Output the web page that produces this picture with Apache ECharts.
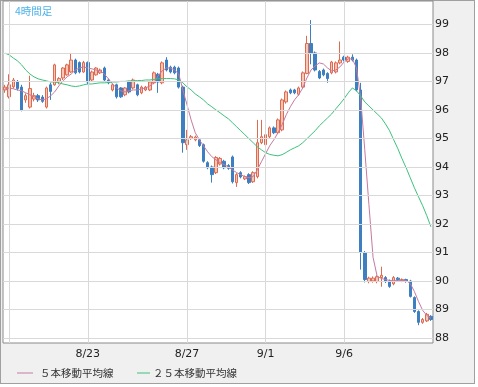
<!DOCTYPE html>
<html>
<head>
<meta charset="utf-8">
<script src="https://cdn.jsdelivr.net/npm/echarts@6/dist/echarts.min.js"></script>
<style>
html,body{margin:0;padding:0;background:#ffffff;}
#frame{position:absolute;left:0;top:0;width:473px;height:382px;background:#f0f0f0;border:1px solid #a0a0a0;}
#chart{position:absolute;left:0;top:0;width:478px;height:387px;}
</style>
</head>
<body>
<div id="frame"></div>
<div id="chart"></div>
<script>
// ---- data ----
const opens  = [96.70,96.46,96.81,97.00,96.80,96.35,96.10,96.38,96.50,96.45,96.10,96.88,96.88,97.00,97.12,97.23,97.33,97.75,97.66,97.33,
                97.66,97.05,97.23,97.30,97.47,97.05,96.70,96.88,96.77,96.53,96.98,96.77,96.88,96.60,96.70,96.70,96.95,97.25,96.95,97.75,
                97.50,97.50,97.47,96.80,94.78,95.00,94.95,94.95,94.78,94.15,94.00,93.80,94.10,94.20,94.05,94.35,93.45,93.80,93.58,93.73,
                93.48,93.66,94.85,94.78,95.06,95.37,95.20,95.30,96.28,96.70,96.70,96.55,96.80,97.28,98.33,98.00,97.35,97.40,97.28,97.30,
                97.33,97.65,97.85,97.70,97.85,97.75,96.70,91.00,89.98,90.00,89.98,90.12,90.12,90.00,89.90,90.10,90.00,90.05,90.00,89.42,
                88.93,88.55,88.60,88.76];
const closes = [96.80,96.88,97.05,96.75,96.00,96.50,96.75,96.50,96.35,96.30,96.77,96.65,97.58,97.10,97.47,97.58,97.75,97.30,97.33,97.66,
                96.98,97.33,97.47,97.40,97.05,96.95,96.88,96.46,96.46,96.77,96.63,97.05,96.53,96.80,96.80,96.98,97.30,96.98,97.65,97.40,
                97.33,97.30,96.80,94.85,94.95,95.06,95.05,94.75,94.20,93.97,93.73,94.33,94.30,93.97,93.95,93.48,93.73,93.65,93.66,93.45,
                93.80,94.85,95.06,95.13,95.37,95.20,95.65,96.35,96.63,96.60,96.60,96.77,97.30,98.33,98.00,97.40,97.12,97.23,97.10,97.68,
                97.65,97.75,97.75,97.85,97.75,96.70,91.00,90.05,90.10,90.10,90.15,90.20,89.98,89.81,90.12,90.05,90.05,89.98,89.46,88.93,
                88.55,88.65,88.83,88.65];
const lows   = [96.60,96.40,96.75,96.68,95.95,96.25,96.05,96.30,96.28,96.25,96.05,96.35,96.85,96.90,97.05,97.20,97.30,97.25,97.28,97.30,
                96.90,97.00,97.20,97.26,97.00,96.90,96.65,96.40,96.42,96.48,96.58,96.72,96.48,96.55,96.66,96.66,96.90,96.60,96.90,97.35,
                97.28,97.25,96.75,94.50,94.60,94.95,94.90,94.70,94.15,93.92,93.45,93.75,94.05,93.92,93.90,93.42,93.30,93.60,93.54,93.40,
                93.44,93.60,94.80,94.72,95.00,95.15,95.15,95.25,96.22,96.55,96.55,96.50,96.75,97.25,97.60,97.35,97.08,97.18,96.95,97.25,
                97.28,97.60,97.70,97.65,97.70,96.65,90.40,89.95,89.92,89.94,89.92,89.80,89.93,89.76,89.85,90.00,89.96,89.94,89.42,88.88,
                88.45,88.50,88.56,88.60];
const highs  = [96.88,97.25,97.12,97.05,96.88,96.58,97.20,96.60,96.56,96.52,96.82,96.95,97.62,97.15,97.50,97.62,98.00,97.80,97.70,97.72,
                97.70,97.38,97.50,97.45,97.52,97.10,96.92,96.92,96.80,96.80,97.02,97.10,96.92,96.85,96.84,97.02,97.35,97.30,97.70,97.85,
                97.55,97.55,97.52,96.85,95.30,95.12,95.10,95.00,94.82,94.20,94.05,94.38,94.35,94.25,94.10,94.40,93.78,93.85,93.70,93.78,
                93.85,95.65,95.65,95.20,95.42,95.42,95.70,96.40,96.68,96.75,96.74,96.82,97.35,98.60,99.15,98.05,97.40,97.45,97.32,97.72,
                97.70,98.40,97.90,97.90,97.95,97.80,96.95,91.05,90.15,90.16,90.20,90.50,90.17,90.05,90.17,90.14,90.09,90.08,90.04,89.46,
                88.97,88.70,88.88,88.80];
const ma5    = [96.74,96.77,96.74,96.70,96.67,96.60,96.53,96.46,96.39,96.35,96.39,96.49,96.63,96.84,97.02,97.16,97.26,97.40,97.47,97.51,
                97.47,97.44,97.40,97.37,97.26,97.09,96.91,96.77,96.67,96.63,96.67,96.70,96.70,96.74,96.77,96.84,96.95,97.19,97.37,97.47,
                97.47,97.40,97.26,96.70,96.18,95.65,95.20,94.95,94.74,94.53,94.36,94.25,94.15,94.08,94.00,93.90,93.80,93.73,93.66,93.62,
                93.66,93.90,94.18,94.46,94.74,94.95,95.20,95.48,95.83,96.11,96.35,96.53,96.77,97.12,97.40,97.54,97.65,97.61,97.47,97.37,
                97.40,97.51,97.68,97.79,97.79,97.47,96.42,94.60,92.68,90.83,90.16,90.09,90.05,90.02,90.02,90.02,90.02,90.02,89.91,89.63,
                89.28,88.97,88.79,88.69];
const ma25   = [97.99,97.93,97.82,97.72,97.58,97.40,97.26,97.16,97.09,97.05,97.02,96.98,96.98,96.95,96.91,96.88,96.84,96.82,96.84,96.88,
                96.91,96.91,96.93,96.95,96.95,96.96,96.98,96.98,97.00,97.00,97.02,97.02,97.03,97.03,97.05,97.05,97.07,97.09,97.10,97.10,
                97.10,97.09,97.05,96.95,96.81,96.70,96.56,96.46,96.35,96.21,96.11,96.00,95.90,95.79,95.69,95.55,95.41,95.27,95.13,94.99,
                94.85,94.71,94.60,94.50,94.44,94.41,94.39,94.43,94.51,94.60,94.67,94.74,94.85,94.99,95.13,95.27,95.44,95.58,95.72,95.86,
                96.04,96.21,96.39,96.60,96.77,96.67,96.49,96.28,96.14,96.00,95.86,95.72,95.51,95.27,94.95,94.64,94.29,93.97,93.62,93.27,
                92.95,92.64,92.29,91.90];
const yTicks      = [88,89,90,91,92,93,94,95,96,97,98,99];
const dayIndex    = [1,20,44,63,82];
const dayLabels   = ['','8/23','8/27','9/1','9/6'];
const titleText   = '4時間足';
const legendNames = ['５本移動平均線','２５本移動平均線'];

// ---- build ----
const cats = opens.map((_, i) => String(i));
const candles = opens.map((o, i) => [o, closes[i], lows[i], highs[i]]);
const labelMap = {};
dayIndex.forEach((d, k) => { labelMap[String(d)] = dayLabels[k]; });

const gridLines = [];
yTicks.forEach(v => gridLines.push({ yAxis: v }));
dayIndex.forEach(d => gridLines.push({ xAxis: String(d) }));

const chart = echarts.init(document.getElementById('chart'), null, { renderer: 'canvas' });
chart.setOption({
  animation: false,
  backgroundColor: 'transparent',
  grid: { left: 3, right: 45, top: 1, bottom: 44, show: true, backgroundColor: '#ffffff', borderColor: '#8a8a8a', borderWidth: 1 },
  xAxis: {
    type: 'category', data: cats, boundaryGap: true,
    axisLine: { show: false }, axisTick: { show: false }, splitLine: { show: false },
    axisLabel: {
      interval: (idx) => labelMap[String(idx)] !== undefined && labelMap[String(idx)] !== '',
      formatter: (v) => labelMap[v] || '',
      color: '#222', fontSize: 11, fontFamily: 'DejaVu Sans', margin: 6
    }
  },
  yAxis: {
    type: 'value', position: 'right', min: 87.825, max: 99.82, scale: true,
    axisLine: { show: false }, axisTick: { show: false }, splitLine: { show: false },
    axisLabel: { customValues: yTicks, color: '#222', fontSize: 11, fontFamily: 'DejaVu Sans', margin: 2,
                 formatter: (v) => String(Math.round(v)) }
  },
  series: [
    { type: 'line', data: cats.map(() => null), z: 0, silent: true,
      markLine: { silent: true, symbol: ['none', 'none'], label: { show: false }, animation: false,
                  lineStyle: { color: '#d9d9d9', width: 1, type: 'solid' }, emphasis: { disabled: true },
                  data: gridLines } },
    { type: 'candlestick', data: candles, barWidth: 3, z: 2,
      itemStyle: { color: '#f6c6b6', borderColor: '#df6a50', color0: '#3d7fc0', borderColor0: '#3d7fc0', borderWidth: 1 } },
    { name: legendNames[0], type: 'line', data: ma5, symbol: 'none', z: 3, lineStyle: { color: '#c57a9f', width: 1 } },
    { name: legendNames[1], type: 'line', data: ma25, symbol: 'none', z: 3, lineStyle: { color: '#3cc27c', width: 1 } }
  ],
  graphic: [
    { type: 'text', left: 15, top: 6, style: { text: titleText, fill: '#4ab2ea', fontSize: 10.5, fontFamily: 'Noto Sans CJK JP' } },
    { type: 'line', shape: { x1: 17, y1: 373, x2: 33, y2: 373 }, style: { stroke: '#c57a9f', lineWidth: 1 } },
    { type: 'text', x: 40, y: 373, style: { text: legendNames[0], fill: '#333', fontSize: 10.5, fontFamily: 'Noto Sans CJK JP', textVerticalAlign: 'middle' } },
    { type: 'line', shape: { x1: 137, y1: 373, x2: 150, y2: 373 }, style: { stroke: '#3cc27c', lineWidth: 1 } },
    { type: 'text', x: 153, y: 373, style: { text: legendNames[1], fill: '#333', fontSize: 10.5, fontFamily: 'Noto Sans CJK JP', textVerticalAlign: 'middle' } }
  ]
});
</script>
</body>
</html>
